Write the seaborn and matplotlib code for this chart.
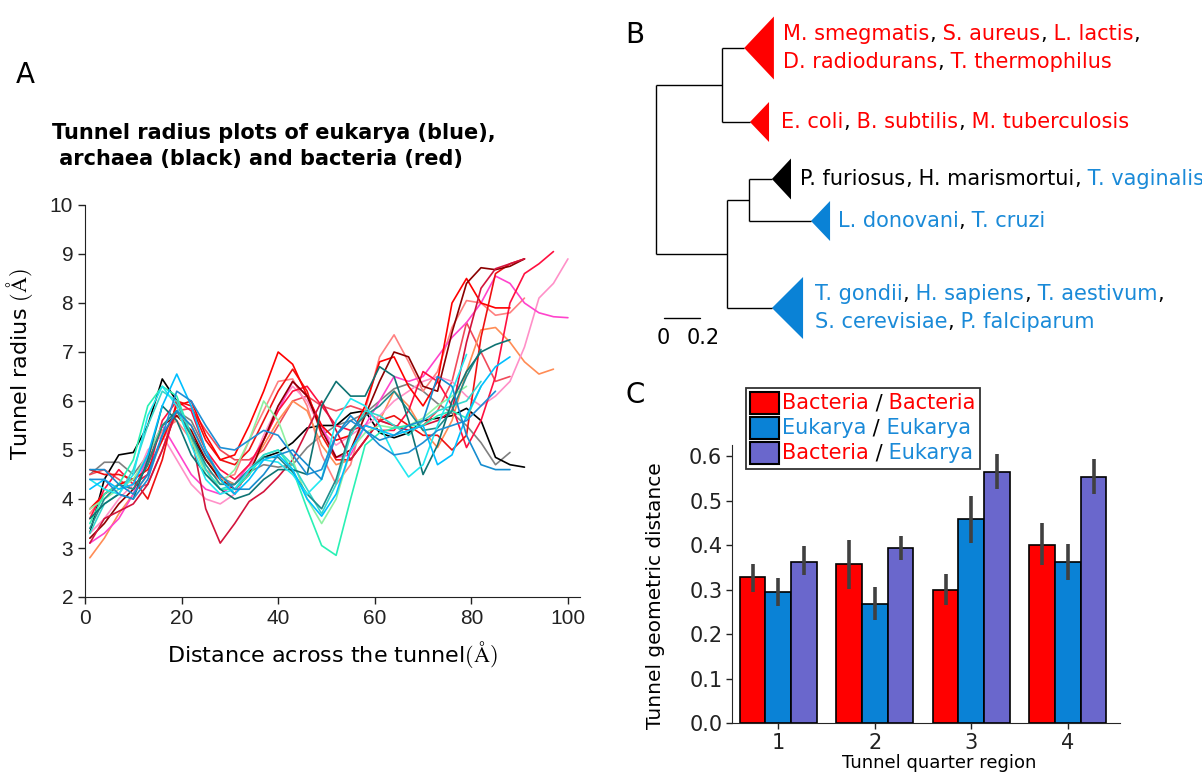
import numpy as np
import pandas as pd
import matplotlib
matplotlib.use('Agg')
import matplotlib.pyplot as plt
import seaborn as sns
from matplotlib.offsetbox import TextArea, HPacker, VPacker, AnnotationBbox, AnchoredOffsetbox, DrawingArea
from matplotlib.patches import Rectangle, Polygon

sns.set_style('ticks')
plt.rcParams['font.family'] = ['DejaVu Sans']
plt.rcParams['mathtext.fontset'] = 'cm'
plt.rcParams['text.color'] = 'black'
plt.rcParams['axes.labelcolor'] = 'black'

RED = '#ff0000'
BLUE = '#0a82d6'
PURPLE = '#6a67cc'

# ---------------- Panel A data: tunnel radius profiles (sampled every 3 A) ----------------
grid_x = [1, 4, 7, 10, 13, 16, 19, 22, 25, 28, 31, 34, 37, 40, 43, 46, 49, 52, 55, 58,
          61, 64, 67, 70, 73, 76, 79, 82, 85, 88, 91, 94, 97, 100]

black_r = [3.3, 4.4, 4.9, 4.95, 5.5, 6.45, 6.0, 5.3, 4.8, 4.4, 4.1, 4.6, 4.85, 4.95, 5.15, 5.45,
           5.5, 5.5, 5.75, 5.8, 5.35, 5.25, 5.35, 5.6, 5.65, 5.7, 5.85, 5.6, 4.85, 4.7, 4.65]
gray_r = [4.5, 4.75, 4.75, 4.5, 4.9, 5.5, 5.8, 5.6, 5.0, 4.45, 4.3, 4.55, 4.7, 4.65, 4.7, 5.05,
          5.3, 5.5, 5.6, 5.75, 6.0, 6.25, 6.35, 6.2, 5.95, 5.75, 5.5, 5.15, 4.7, 4.95]
crimson_r = [3.1, 3.6, 3.75, 3.9, 4.3, 5.0, 5.8, 5.3, 3.8, 3.1, 3.5, 3.95, 4.15, 4.45, 4.8, 5.4,
             6.0, 5.4, 4.8, 5.2, 5.6, 5.5, 5.4, 5.5, 5.6, 5.8, 7.2, 8.3, 8.7, 8.8, 8.9]
aqua_r = [3.5, 4.1, 4.3, 4.8, 5.9, 6.3, 6.1, 5.3, 4.6, 4.2, 4.2, 4.5, 4.9, 5.0, 4.6, 3.8,
          3.05, 2.85, 4.0, 5.1, 5.35, 5.45, 5.5, 5.5, 5.7, 5.8, 5.65, 6.3]
red_r = [3.8, 4.1, 4.3, 4.4, 4.6, 5.2, 5.9, 6.0, 5.3, 4.8, 4.9, 5.5, 6.2, 7.0, 6.75, 6.1,
         5.5, 5.2, 5.3, 5.9, 6.8, 6.9, 6.3, 5.9, 6.4, 8.0, 8.5, 8.0, 7.9, 7.9]
red2_r = [4.6, 4.5, 4.5, 4.4, 4.0, 4.8, 6.0, 5.9, 5.2, 4.8, 4.7, 5.0, 5.6, 6.2, 6.65, 6.2,
          5.3, 4.8, 4.8, 5.2, 5.6, 5.7, 5.5, 5.3, 5.3, 5.0, 5.3, 7.3, 8.6, 8.8, 8.9]
darkred_r = [3.2, 3.5, 3.9, 4.2, 4.7, 5.5, 5.7, 5.4, 4.8, 4.4, 4.2, 4.5, 5.2, 5.9, 6.4, 6.1,
             5.4, 4.85, 5.0, 5.7, 6.4, 7.0, 6.9, 6.3, 6.2, 7.4, 8.4, 8.72, 8.68, 8.75, 8.9]
rose_r = [3.6, 4.2, 4.6, 4.3, 4.5, 5.6, 6.0, 5.8, 5.0, 4.6, 4.4, 4.7, 5.2, 5.8, 6.2, 6.3,
          5.9, 5.5, 5.4, 5.5, 5.4, 5.4, 5.8, 6.6, 6.4, 5.9, 5.05, 5.6, 6.5, 8.0, 8.6, 8.8, 9.05]
coral_r = [3.7, 4.1, 4.3, 4.4, 4.8, 5.4, 5.6, 5.2, 4.6, 4.4, 4.5, 5.2, 5.8, 6.4, 6.45, 5.9,
           4.9, 4.3, 4.7, 5.8, 6.9, 7.35, 6.8, 6.2, 6.6, 7.5, 8.05, 8.0, 7.75, 7.8, 8.1]
hotpink_r = [3.1, 3.3, 3.6, 4.1, 4.9, 5.5, 5.0, 4.5, 4.2, 4.1, 4.3, 4.7, 5.2, 5.8, 6.4, 6.1,
             5.5, 4.85, 4.9, 5.5, 6.0, 6.5, 6.4, 6.5, 6.9, 7.3, 7.6, 8.0, 8.55, 8.4, 8.0, 7.8, 7.72, 7.7]
pink_r = [3.3, 3.6, 4.0, 4.3, 5.0, 5.3, 4.8, 4.3, 4.0, 3.9, 4.1, 4.6, 5.3, 5.9, 6.3, 6.0,
          5.4, 5.1, 5.3, 5.5, 5.7, 6.0, 6.2, 6.4, 6.5, 6.4, 6.1, 5.9, 6.1, 6.4, 7.1, 8.1, 8.4, 8.9]
orange_r = [2.8, 3.2, 3.7, 4.1, 4.5, 5.2, 5.7, 5.5, 4.9, 4.4, 4.3, 4.6, 5.1, 5.6, 6.0, 5.8,
            5.1, 4.7, 4.8, 5.2, 5.6, 6.2, 5.9, 5.4, 5.05, 5.6, 6.6, 7.45, 7.5, 7.2, 6.8, 6.55, 6.65]
salmon_r = [4.5, 4.6, 4.4, 4.2, 4.3, 5.0, 5.8, 5.85, 5.4, 5.0, 4.8, 4.8, 5.0, 5.5, 6.0, 6.1,
            5.9, 5.8, 5.9, 5.8, 5.6, 5.5, 5.4, 5.5, 5.8, 6.4, 7.6, 7.0, 6.4, 6.5]
skyblue_r = [4.2, 4.4, 4.2, 4.3, 4.9, 5.9, 6.55, 5.9, 5.0, 4.4, 4.1, 4.4, 4.8, 4.9, 4.6, 4.0,
             3.65, 4.1, 5.0, 5.5, 5.4, 5.3, 5.4, 5.5, 4.7, 4.9, 5.7, 6.3, 6.7, 6.9]
dodger_r = [4.4, 4.4, 4.1, 4.0, 4.4, 5.3, 6.2, 6.0, 5.5, 5.05, 5.0, 5.2, 5.4, 5.3, 4.9, 4.5,
            4.6, 5.3, 5.6, 5.4, 5.1, 4.9, 4.95, 5.15, 5.4, 5.5, 5.6, 5.9, 6.2]
cyan_r = [4.4, 4.2, 4.1, 4.5, 5.7, 6.3, 5.9, 5.1, 4.4, 4.1, 4.2, 4.6, 4.8, 4.75, 4.5, 4.1,
          4.4, 5.6, 6.05, 5.9, 5.5, 4.9, 4.45, 4.7, 5.5, 6.2, 6.95]
teal_r = [3.6, 3.9, 4.1, 4.0, 4.8, 5.9, 5.6, 4.9, 4.5, 4.2, 4.0, 4.1, 4.4, 4.6, 4.6, 4.5,
          5.9, 6.4, 6.1, 6.1, 6.7, 6.5, 5.6, 4.5, 5.1, 6.0, 6.6, 7.0, 7.15, 7.25]
darkcyan_r = [3.4, 4.0, 4.3, 4.2, 4.7, 5.5, 5.8, 5.3, 4.7, 4.3, 4.3, 4.6, 4.85, 4.85, 4.55, 4.1,
              3.8, 4.4, 5.4, 5.7, 5.9, 6.2, 5.8, 5.4, 5.45, 5.8, 6.5, 7.05]
palegreen_r = [3.8, 4.0, 4.2, 4.4, 4.9, 5.5, 5.8, 5.2, 4.5, 4.3, 4.6, 5.2, 6.0, 5.6, 4.8, 4.0,
               3.5, 4.0, 5.0, 5.35, 5.5, 5.45, 5.5, 5.65, 5.9, 6.1, 6.3]
turquoise_r = [3.3, 3.9, 4.1, 4.6, 5.5, 6.2, 6.0, 5.3, 4.6, 4.2, 4.3, 4.6, 4.9, 5.0, 4.7, 4.2,
               3.7, 4.3, 5.3, 5.8, 5.7, 5.5, 5.3, 5.6, 5.8, 5.9, 6.0, 6.4]
steel_r = [4.6, 4.6, 4.3, 4.1, 4.5, 5.3, 5.8, 5.5, 4.9, 4.5, 4.2, 4.2, 4.5, 4.9, 5.0, 4.7,
           4.4, 5.3, 5.7, 5.4, 5.2, 5.3, 5.5, 5.6, 6.5, 6.3, 5.3, 4.7, 4.6, 4.6]

curve_names = ['gray', 'black', 'salmon', 'coral', 'orange', 'pink', 'hotpink', 'rose', 'red2', 'red',
               'darkred', 'crimson', 'palegreen', 'aqua', 'turquoise', 'darkcyan', 'teal', 'cyan',
               'skyblue', 'dodger', 'steel']
curve_values = [gray_r, black_r, salmon_r, coral_r, orange_r, pink_r, hotpink_r, rose_r, red2_r, red_r,
                darkred_r, crimson_r, palegreen_r, aqua_r, turquoise_r, darkcyan_r, teal_r, cyan_r,
                skyblue_r, dodger_r, steel_r]
curve_colors = ['#808080', '#000000', '#f04a5a', '#ff8080', '#ff8c55', '#ff90c8', '#ff44cc', '#ff1040',
                '#ee1111', '#ff0000', '#8b0000', '#d2143c', '#8ef0a0', '#2af0b4', '#34d8cc', '#1f8c8c',
                '#0f7373', '#22e8f0', '#00bfff', '#1e8fd5', '#168ccf']

# ---------------- Panel C data ----------------
regions = ['1', '2', '3', '4']
pairs = ['Bacteria / Bacteria', 'Eukarya / Eukarya', 'Bacteria / Eukarya']
bb_mean = [0.328, 0.357, 0.299, 0.401]
bb_lo = [0.295, 0.302, 0.265, 0.355]
bb_hi = [0.358, 0.411, 0.336, 0.449]
ee_mean = [0.294, 0.268, 0.459, 0.361]
ee_lo = [0.263, 0.232, 0.404, 0.322]
ee_hi = [0.325, 0.305, 0.511, 0.403]
be_mean = [0.363, 0.393, 0.565, 0.554]
be_lo = [0.333, 0.367, 0.527, 0.515]
be_hi = [0.398, 0.420, 0.605, 0.593]

# ---------------- Panel B data: collapsed tree (branch-length units) ----------------
clade_names = ['top', 'ecoli', 'archaea', 'ldon', 'bottom']
clade_apex = [0.49, 0.522, 0.644, 0.861, 0.644]
clade_base = [0.655, 0.628, 0.75, 0.967, 0.817]
clade_row = [48, 122, 179, 221, 308]
clade_half = [31.5, 20, 20.5, 20, 31]
clade_color = [RED, RED, '#000000', BLUE, BLUE]
node_upper_x = 0.367
node_lower_x = 0.394
node_inner_x = 0.517
clade_label_x = [0.706, 0.694, 0.80, 1.01, 0.883]

W, H = 1202, 775
fig = plt.figure(figsize=(W / 100, H / 100), dpi=100)

# ================= Panel A =================
axA = fig.add_axes([85 / W, 1 - 597 / H, (580 - 85) / W, (597 - 205) / H])
rows = []
for name, vals in zip(curve_names, curve_values):
    for xv, rv in zip(grid_x, vals):
        rows.append((name, xv, rv))
dfA = pd.DataFrame(rows, columns=['curve', 'x', 'r'])
sns.lineplot(data=dfA, x='x', y='r', hue='curve', hue_order=curve_names,
             palette=dict(zip(curve_names, curve_colors)), legend=False, ax=axA,
             linewidth=1.2, estimator=None, sort=False)
axA.set_xlim(0, 102.5)
axA.set_ylim(2, 10)
axA.set_xticks([0, 20, 40, 60, 80, 100])
axA.set_yticks([2, 3, 4, 5, 6, 7, 8, 9, 10])
axA.tick_params(labelsize=15, length=5, width=1.0, colors='#222222')
for lab in axA.get_xticklabels() + axA.get_yticklabels():
    lab.set_fontfamily('Liberation Sans')
for s in ['left', 'bottom']:
    axA.spines[s].set_color('#222222')
sns.despine(ax=axA)
axA.set_xlabel(r'Distance across the tunnel$(\mathrm{\AA})$', fontsize=16, labelpad=8)
axA.set_ylabel(r'Tunnel radius $(\mathrm{\AA})$', fontsize=16)
axA.yaxis.set_label_coords(-0.101, 0.594)
fig.text(52 / W, 1 - 146 / H, 'Tunnel radius plots of eukarya (blue),\n archaea (black) and bacteria (red)',
         ha='left', va='center', fontsize=15, fontweight='bold', linespacing=1.35, multialignment='left')

# ================= Panel B =================
axB = fig.add_axes([600 / W, 1 - 360 / H, 602 / W, 360 / H])
axB.set_xlim(-56 / 180, 546 / 180)
axB.set_ylim(360, 0)
axB.axis('off')
lk = dict(color='black', lw=1.0, solid_capstyle='butt')
y_up = (clade_row[0] + clade_row[1]) / 2
y_inner = (clade_row[2] + clade_row[3]) / 2
y_low = (y_inner + clade_row[4]) / 2
axB.plot([0, 0], [y_up, y_low], **lk)
axB.plot([0, node_upper_x], [y_up, y_up], **lk)
axB.plot([0, node_lower_x], [y_low, y_low], **lk)
axB.plot([node_upper_x, node_upper_x], [clade_row[0], clade_row[1]], **lk)
axB.plot([node_lower_x, node_lower_x], [y_inner, clade_row[4]], **lk)
axB.plot([node_lower_x, node_inner_x], [y_inner, y_inner], **lk)
axB.plot([node_inner_x, node_inner_x], [clade_row[2], clade_row[3]], **lk)
parents = [node_upper_x, node_upper_x, node_inner_x, node_inner_x, node_lower_x]
for px, ax_, bx, ry, hh, c in zip(parents, clade_apex, clade_base, clade_row, clade_half, clade_color):
    axB.plot([px, ax_], [ry, ry], **lk)
    axB.add_patch(Polygon([[ax_, ry], [bx, ry - hh], [bx, ry + hh]], closed=True,
                          facecolor=c, edgecolor='none'))

def crow(parts, fs=15):
    return HPacker(children=[TextArea(t, textprops=dict(color=c, fontsize=fs)) for t, c in parts],
                   sep=0, pad=0, align='baseline')

K = '#000000'
TB = '#1a8ad8'
labels = [
    [[('M. smegmatis', RED), (',', K), (' S. aureus', RED), (',', K), (' L. lactis', RED), (',', K)],
     [('D. radiodurans', RED), (',', K), (' T. thermophilus', RED)]],
    [[('E. coli', RED), (',', K), (' B. subtilis', RED), (',', K), (' M. tuberculosis', RED)]],
    [[('P. furiosus', K), (',', K), (' H. marismortui', K), (',', K), (' T. vaginalis', TB)]],
    [[('L. donovani', TB), (',', K), (' T. cruzi', TB)]],
    [[('T. gondii', TB), (',', K), (' H. sapiens', TB), (',', K), (' T. aestivum', TB), (',', K)],
     [('S. cerevisiae', TB), (',', K), (' P. falciparum', TB)]],
]
for lab, lx, ry in zip(labels, clade_label_x, clade_row):
    box = VPacker(children=[crow(p) for p in lab], sep=6, pad=0, align='left')
    ab = AnnotationBbox(box, (lx, ry), xycoords='data', box_alignment=(0, 0.5),
                        frameon=False, pad=0, annotation_clip=False)
    axB.add_artist(ab)

scale_len = 0.2
axB.plot([0.044, 0.044 + scale_len], [318, 318], color='black', lw=1.0)
axB.text(0.039, 338, '0', ha='center', va='center', fontsize=15)
axB.text(0.262, 338, '0.2', ha='center', va='center', fontsize=15)

# ================= Panel C =================
axC = fig.add_axes([732 / W, 1 - 723 / H, (1120 - 732) / W, (723 - 445) / H])
rowsC = []
for pair, means in zip(pairs, [bb_mean, ee_mean, be_mean]):
    for reg, m in zip(regions, means):
        rowsC.append((reg, pair, m))
dfC = pd.DataFrame(rowsC, columns=['region', 'pair', 'value'])
sns.barplot(data=dfC, x='region', y='value', hue='pair', order=regions, hue_order=pairs,
            palette=[RED, BLUE, PURPLE], edgecolor='black', linewidth=1.2, errorbar=None,
            legend=False, ax=axC, saturation=1)
for cont, lo, hi in zip(axC.containers, [bb_lo, ee_lo, be_lo], [bb_hi, ee_hi, be_hi]):
    for patch, l, h in zip(cont.patches, lo, hi):
        xc = patch.get_x() + patch.get_width() / 2
        axC.vlines(xc, l, h, color='#404040', lw=2.6, zorder=4)
axC.set_ylim(0, 0.625)
axC.set_xlim(-0.48, 3.54)
axC.set_yticks([0, 0.1, 0.2, 0.3, 0.4, 0.5, 0.6])
axC.set_yticklabels(['0.0', '0.1', '0.2', '0.3', '0.4', '0.5', '0.6'])
axC.tick_params(labelsize=15, length=4, width=1.0, colors='#222222')
axC.tick_params(axis='y', pad=3)
sns.despine(ax=axC)
axC.set_xlabel('Tunnel quarter region', fontsize=13, labelpad=1)
axC.xaxis.set_label_coords(0.533, -0.112)
axC.set_ylabel('Tunnel geometric distance', fontsize=14.5)
axC.yaxis.set_label_coords(-0.173, 0.457)

leg_rows = []
leg_parts = [
    [('Bacteria', RED), (' /', K), (' Bacteria', RED)],
    [('Eukarya', TB), (' /', K), (' Eukarya', TB)],
    [('Bacteria', RED), (' /', K), (' Eukarya', TB)],
]
for parts, fc in zip(leg_parts, [RED, BLUE, PURPLE]):
    da = DrawingArea(21, 16, 0, 0)
    da.add_artist(Rectangle((0, 0), 21, 16, facecolor=fc, edgecolor='black', lw=1.5))
    leg_rows.append(HPacker(children=[da, crow(parts, 15)], sep=2, pad=0, align='center'))
legbox = VPacker(children=leg_rows, sep=2, pad=0, align='left')
anch = AnchoredOffsetbox(loc='upper left', child=legbox, pad=0.3, borderpad=0, frameon=True,
                         bbox_to_anchor=(746 / W, 1 - 388 / H), bbox_transform=fig.transFigure)
anch.patch.set_boxstyle('square', pad=0)
anch.patch.set_edgecolor('#333333')
anch.patch.set_linewidth(1.3)
axC.add_artist(anch)

# panel letters
fig.text(25 / W, 1 - 75 / H, 'A', fontsize=20, ha='center', va='center')
fig.text(635 / W, 1 - 35 / H, 'B', fontsize=20, ha='center', va='center')
fig.text(635 / W, 1 - 395 / H, 'C', fontsize=20, ha='center', va='center')

fig.savefig('out.png', dpi=100)
